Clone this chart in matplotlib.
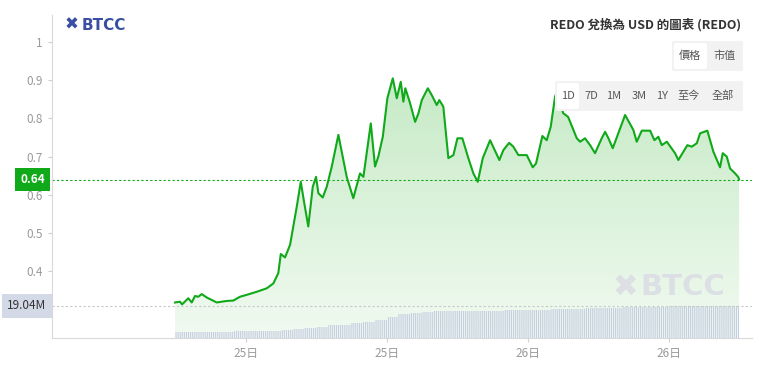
import numpy as np
import matplotlib
matplotlib.use("Agg")
import matplotlib.pyplot as plt
from matplotlib.patches import FancyBboxPatch
from matplotlib.colors import LinearSegmentedColormap

plt.rcParams['font.family'] = ['Noto Sans CJK TC', 'DejaVu Sans']
plt.rcParams['hatch.linewidth'] = 0.8

# hours since 24日 18:00
hours = [0.0, 0.43, 0.60, 1.13, 1.42, 1.70, 1.98, 2.27, 2.70, 3.55, 4.40, 4.96, 5.53,
         6.10, 6.95, 7.80, 8.37, 8.79, 9.00, 9.36, 9.79, 10.36, 10.70, 11.00, 11.34,
         11.72, 12.00, 12.20, 12.57, 12.91, 13.34, 13.90, 14.61, 15.17, 15.74, 16.03,
         16.66, 17.02, 17.30, 17.68, 18.07, 18.53, 18.87, 19.21, 19.43, 19.60, 20.00,
         20.43, 20.71, 21.00, 21.51, 21.85, 22.27, 22.49, 22.83, 23.26, 23.69, 24.03,
         24.45, 24.96, 25.39, 25.76, 26.19, 26.81, 27.60, 27.94, 28.43, 28.79, 29.22,
         29.93, 30.44, 30.72, 31.26, 31.63, 31.97, 32.34, 32.60, 33.02, 33.45, 34.19,
         34.47, 34.89, 35.32, 35.74, 36.31, 36.60, 36.88, 37.25, 37.72, 38.30, 39.00,
         39.29, 39.72, 40.43, 40.79, 41.13, 41.42, 41.85, 42.55, 42.83, 43.60, 43.97,
         44.40, 44.68, 45.30, 45.81, 46.38, 46.61, 46.95, 47.23, 47.66, 47.94, 48.0]
price = [0.318, 0.320, 0.313, 0.329, 0.318, 0.335, 0.333, 0.340, 0.331, 0.318, 0.322,
         0.323, 0.333, 0.338, 0.346, 0.355, 0.368, 0.395, 0.445, 0.436, 0.469, 0.569,
         0.634, 0.578, 0.517, 0.621, 0.647, 0.604, 0.593, 0.621, 0.674, 0.757, 0.647,
         0.591, 0.656, 0.647, 0.787, 0.674, 0.700, 0.752, 0.853, 0.905, 0.853, 0.896,
         0.844, 0.879, 0.840, 0.791, 0.813, 0.848, 0.879, 0.861, 0.835, 0.848, 0.831,
         0.696, 0.704, 0.748, 0.748, 0.696, 0.656, 0.634, 0.696, 0.743, 0.691, 0.717,
         0.736, 0.726, 0.704, 0.704, 0.672, 0.682, 0.754, 0.743, 0.778, 0.857, 0.880,
         0.814, 0.804, 0.748, 0.739, 0.748, 0.730, 0.709, 0.748, 0.765, 0.748, 0.722,
         0.761, 0.809, 0.770, 0.739, 0.768, 0.768, 0.743, 0.752, 0.730, 0.739, 0.709,
         0.691, 0.730, 0.726, 0.735, 0.761, 0.768, 0.713, 0.672, 0.709, 0.700, 0.669,
         0.656, 0.646, 0.640]

# 24h volume (M), hourly
vol_hours = list(range(48))
volume = [3.6, 3.7, 3.7, 3.8, 3.8, 3.9, 3.9, 4.0, 4.0, 4.5, 5.2, 5.8, 6.8, 7.5, 8.0,
          8.8, 9.8, 10.6, 12.5, 14.3, 15.0, 15.7, 15.8, 15.9, 16.0, 16.1, 16.2, 16.3,
          16.4, 16.5, 16.6, 16.8, 17.0, 17.3, 17.5, 17.7, 17.9, 18.1, 18.3, 18.5, 18.6,
          18.7, 18.8, 18.9, 18.95, 19.0, 19.02, 19.04]

tick_pos = [6, 18, 30, 42]
tick_lab = ["25日", "25日", "26日", "26日"]

GREEN = "#10a91a"
GREY = "#9a9a9a"

fig = plt.figure(figsize=(7.59, 3.74), dpi=100)
ax = fig.add_axes([0.0685, 0.0963, 0.9223, 0.8637])
ax.set_xlim(-10.47, 49.1)
ax.set_ylim(0.225, 1.071)

# gradient fill under the line
poly = ax.fill_between(hours, price, 0.225, color="none")
grad = np.linspace(0, 1, 256).reshape(-1, 1)
cmap = LinearSegmentedColormap.from_list("g", ["#f1faf1", "#c6eac6"])
im = ax.imshow(grad, cmap=cmap, aspect="auto", origin="lower",
               extent=[hours[0], hours[-1], 0.225, max(price)], zorder=1)
im.set_clip_path(poly.get_paths()[0], transform=ax.transData)

ax.plot(hours, price, color=GREEN, lw=1.5, zorder=3, solid_joinstyle="round")
ax.axhline(price[-1], color=GREEN, lw=0.8, ls=(0, (2, 2)), zorder=2)

# volume bars
ax2 = ax.twinx()
ax2.set_ylim(0, 192.2)
ax2.bar(vol_hours, volume, width=1.0, align="edge", facecolor="none",
        edgecolor="#c5cde2", hatch="|" * 8, linewidth=0, zorder=2)
ax2.axhline(volume[-1], color="#c8c8c8", lw=0.8, ls=(0, (2, 2)))
ax2.set_yticks([])
for s in ax2.spines.values():
    s.set_visible(False)

# axes styling
for s in ["top", "right"]:
    ax.spines[s].set_visible(False)
for s in ["left", "bottom"]:
    ax.spines[s].set_color("#d9d9d9")
ax.set_yticks([0.4, 0.5, 0.6, 0.7, 0.8, 0.9, 1.0])
ax.set_yticklabels(["0.4", "0.5", "0.6", "0.7", "0.8", "0.9", "1"])
ax.set_xticks(tick_pos)
ax.set_xticklabels(tick_lab)
ax.tick_params(colors="#d0d0d0", labelcolor=GREY, labelsize=8.5, length=3)

# last price / volume labels
ax.annotate(f"{price[-1]:.2f}", xy=(0, price[-1]), xycoords=("axes fraction", "data"),
            xytext=(-5, 0), textcoords="offset points", ha="right", va="center",
            color="white", fontsize=8.5, fontweight="bold",
            bbox=dict(boxstyle="square,pad=0.45", fc=GREEN, ec="none"))
ax2.annotate(f"{volume[-1]:.2f}M", xy=(0, volume[-1]), xycoords=("axes fraction", "data"),
             xytext=(-4, 0), textcoords="offset points", ha="right", va="center",
             color="#333333", fontsize=8.5,
             bbox=dict(boxstyle="square,pad=0.45", fc="#d3d9e6", ec="none"))

# logo and title
fig.text(65 / 759, 1 - 25 / 374, "✖", color="#3a4fa3", fontsize=12,
         fontweight="bold", va="center", ha="left", family="DejaVu Sans")
fig.text(82 / 759, 1 - 25 / 374, "BTCC", color="#3a4fa3", fontsize=11,
         fontweight="bold", va="center", ha="left", family="DejaVu Sans")
fig.text(741 / 759, 1 - 25 / 374, "REDO 兌換為 USD 的圖表 (REDO)", color="#333333",
         fontsize=9, fontweight="bold", va="center", ha="right")

# watermarks
fig.text(612 / 759, 1 - 287 / 374, "✖", color="#dcdfe4", fontsize=22,
         fontweight="bold", va="center", ha="left", family="DejaVu Sans", zorder=0.5)
fig.text(640 / 759, 1 - 287 / 374, "BTCC", color="#dcdfe4", fontsize=21,
         fontweight="bold", va="center", ha="left", family="DejaVu Sans", zorder=0.5)


def button_box(x0, y0, w, h, color):
    fig.patches.append(FancyBboxPatch((x0 / 759, 1 - (y0 + h) / 374), w / 759, h / 374,
                                      boxstyle="round,pad=0,rounding_size=0.004",
                                      transform=fig.transFigure, fc=color, ec="none",
                                      zorder=5))


button_box(672, 41, 71, 30, "#f2f2f2")
button_box(674, 43, 33, 26, "#ffffff")
fig.text(690 / 759, 1 - 56 / 374, "價格", fontsize=8, color="#555555", ha="center",
         va="center", zorder=6)
fig.text(725 / 759, 1 - 56 / 374, "市值", fontsize=8, color="#555555", ha="center",
         va="center", zorder=6)

button_box(555, 81, 188, 30, "#f2f2f2")
button_box(557, 83, 22, 26, "#ffffff")
btns = ["1D", "7D", "1M", "3M", "1Y", "至今", "全部"]
bx = [568, 591, 614, 639, 662, 689, 723]
for b, x in zip(btns, bx):
    fig.text(x / 759, 1 - 96 / 374, b, fontsize=8, color="#555555", ha="center",
             va="center", zorder=6)

fig.savefig("out.png", dpi=100)
